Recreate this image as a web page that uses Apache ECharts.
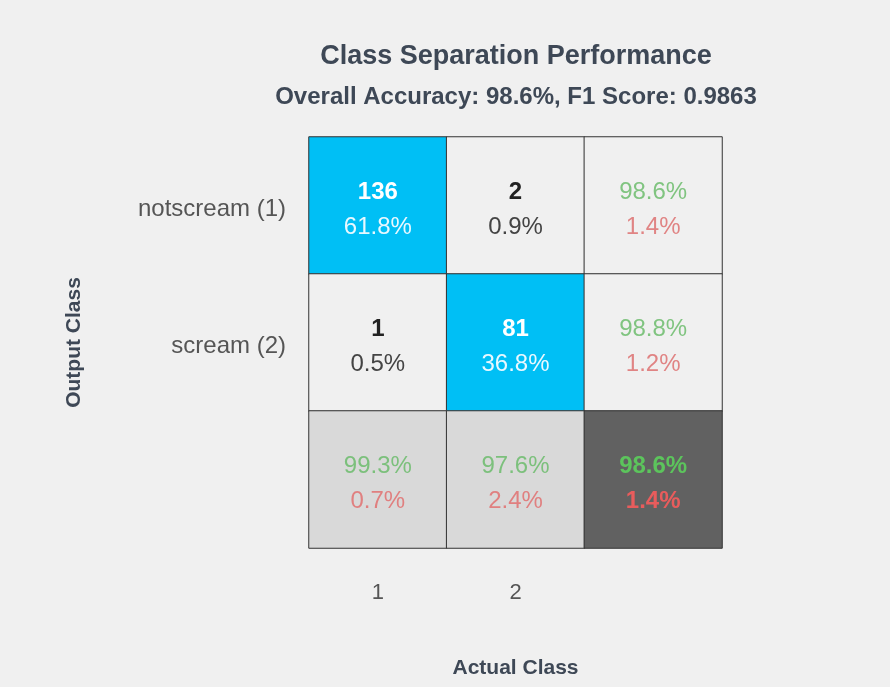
<!DOCTYPE html>
<html>
<head>
<meta charset="utf-8">
<script src="https://cdn.jsdelivr.net/npm/echarts@6/dist/echarts.min.js"></script>
<style>
html,body{margin:0;padding:0;background:#f0f0f0;}
#chart{width:890px;height:687px;}
</style>
</head>
<body>
<div id="chart"></div>
<script>
const titleText = 'Class Separation Performance';
const subtitleText = 'Overall Accuracy: 98.6%, F1 Score: 0.9863';
const xLabels = ['1', '2', ''];
const yLabels = ['notscream (1)', 'scream (2)', ''];
const counts = [[136, 2], [1, 81]];
const cellPct = [[61.8, 0.9], [0.5, 36.8]];
const rowCorrect = [98.6, 98.8];
const rowWrong = [1.4, 1.2];
const colCorrect = [99.3, 97.6];
const colWrong = [0.7, 2.4];
const overallCorrect = 98.6;
const overallWrong = 1.4;

const FONT = '"Liberation Sans", Arial, sans-serif';
const BLUE = '#00bff5';
const FS = 24;
const LH = 35;
const data = [];
for (let r = 0; r < 2; r++) {
  for (let c = 0; c < 2; c++) {
    const diag = r === c;
    data.push({
      value: [c, r, counts[r][c]],
      itemStyle: { color: diag ? BLUE : '#f0f0f0' },
      label: {
        formatter: '{a|' + counts[r][c] + '}\n{b|' + cellPct[r][c].toFixed(1) + '%}',
        rich: {
          a: { fontFamily: FONT, fontSize: FS, fontWeight: 'bold', color: diag ? '#ffffff' : '#222222', lineHeight: LH },
          b: { fontFamily: FONT, fontSize: FS, color: diag ? '#e8f8ff' : '#444444', lineHeight: LH }
        }
      }
    });
  }
  data.push({
    value: [2, r, rowCorrect[r]],
    itemStyle: { color: '#f0f0f0' },
    label: {
      formatter: '{g|' + rowCorrect[r].toFixed(1) + '%}\n{w|' + rowWrong[r].toFixed(1) + '%}',
      rich: {
        g: { fontFamily: FONT, fontSize: FS, color: '#80c480', lineHeight: LH },
        w: { fontFamily: FONT, fontSize: FS, color: '#e08484', lineHeight: LH }
      }
    }
  });
}
for (let c = 0; c < 2; c++) {
  data.push({
    value: [c, 2, colCorrect[c]],
    itemStyle: { color: '#d9d9d9' },
    label: {
      formatter: '{g|' + colCorrect[c].toFixed(1) + '%}\n{w|' + colWrong[c].toFixed(1) + '%}',
      rich: {
        g: { fontFamily: FONT, fontSize: FS, color: '#7cc07c', lineHeight: LH },
        w: { fontFamily: FONT, fontSize: FS, color: '#e08080', lineHeight: LH }
      }
    }
  });
}
data.push({
  value: [2, 2, overallCorrect],
  itemStyle: { color: '#616161' },
  label: {
    formatter: '{g|' + overallCorrect.toFixed(1) + '%}\n{w|' + overallWrong.toFixed(1) + '%}',
    rich: {
      g: { fontFamily: FONT, fontSize: FS, fontWeight: 'bold', color: '#5cc45c', lineHeight: LH },
      w: { fontFamily: FONT, fontSize: FS, fontWeight: 'bold', color: '#e85c5c', lineHeight: LH }
    }
  }
});

const chart = echarts.init(document.getElementById('chart'));
chart.setOption({
  backgroundColor: '#f0f0f0',
  animation: false,
  graphic: [
    { type: 'text', style: { text: titleText, x: 516, y: 57, textAlign: 'center', textVerticalAlign: 'middle', font: 'bold 27px ' + FONT, fill: '#3e4856' } },
    { type: 'text', style: { text: subtitleText, x: 516, y: 97, textAlign: 'center', textVerticalAlign: 'middle', font: 'bold 24px ' + FONT, fill: '#3e4856' } }
  ],
  grid: { left: 309, top: 137, width: 413, height: 411 },
  xAxis: {
    type: 'category', data: xLabels,
    name: 'Actual Class', nameLocation: 'middle', nameGap: 110,
    nameTextStyle: { fontFamily: FONT, fontSize: 21, fontWeight: 'bold', color: '#3e4856' },
    axisLine: { show: false }, axisTick: { show: false }, splitLine: { show: false },
    axisLabel: { fontFamily: FONT, fontSize: 22, color: '#555555', margin: 34 }
  },
  yAxis: {
    type: 'category', data: yLabels, inverse: true,
    name: 'Output Class', nameLocation: 'middle', nameGap: 224,
    nameTextStyle: { fontFamily: FONT, fontSize: 21, fontWeight: 'bold', color: '#3e4856' },
    axisLine: { show: false }, axisTick: { show: false }, splitLine: { show: false },
    axisLabel: { fontFamily: FONT, fontSize: 24, color: '#555555', margin: 23, verticalAlign: 'top', lineHeight: 8 }
  },
  series: [{
    type: 'heatmap',
    data: data,
    itemStyle: { borderColor: '#333333', borderWidth: 1 },
    label: { show: true, offset: [0, 4] },
    emphasis: { disabled: true }
  }]
});
</script>
</body>
</html>
